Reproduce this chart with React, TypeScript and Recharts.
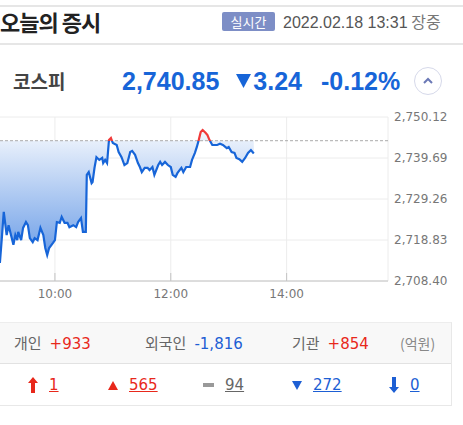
import {
  Area,
  CartesianGrid,
  ComposedChart,
  Line,
  ReferenceLine,
  XAxis,
  YAxis,
} from "recharts";

// minutes after 09:00 and KOSPI value
const minutes = [
  0, 3, 5, 7, 10, 12, 17, 19, 21, 22, 25, 27, 30, 32, 34, 37, 39, 42, 45, 48,
  50, 52, 54, 58, 60, 62, 65, 67, 70, 73, 75, 79, 82, 84, 87, 89, 92, 93, 95,
  98, 99, 101, 103, 106, 109, 110, 112, 114, 116, 118, 120, 124, 126, 129, 132,
  135, 138, 140, 143, 146, 148, 150, 153, 156, 158, 161, 163, 167, 169, 171,
  174, 177, 180, 182, 185, 187, 191, 193, 196, 200, 202, 205, 207, 209, 211,
  213, 216, 218, 220, 223, 228, 231, 234, 238, 240, 243, 246, 248, 251, 254,
  257, 260, 263, 266,
];
const prices = [
  2716.8, 2713.0, 2719.3, 2726.0, 2720.1, 2722.6, 2717.6, 2720.1, 2718.8,
  2720.9, 2718.8, 2721.9, 2723.4, 2722.6, 2719.3, 2718.3, 2719.3, 2718.8,
  2721.9, 2720.1, 2716.8, 2715.0, 2716.8, 2718.1, 2718.8, 2723.4, 2723.2,
  2724.7, 2723.2, 2723.2, 2722.1, 2722.6, 2722.1, 2723.4, 2724.4, 2720.9,
  2720.9, 2735.4, 2736.1, 2733.3, 2733.6, 2737.2, 2739.9, 2739.2, 2739.7,
  2738.4, 2739.2, 2738.4, 2744.3, 2744.8, 2743.5, 2743.0, 2741.2, 2739.9,
  2737.9, 2738.4, 2741.2, 2741.5, 2740.5, 2738.4, 2737.4, 2736.1, 2737.2,
  2737.2, 2736.6, 2737.4, 2735.4, 2737.9, 2738.7, 2737.9, 2738.7, 2737.9,
  2737.4, 2735.4, 2734.9, 2735.9, 2737.2, 2736.1, 2737.4, 2737.4, 2739.2,
  2741.0, 2742.5, 2744.3, 2746.3, 2746.8, 2746.1, 2745.5, 2744.3, 2743.0,
  2743.0, 2743.3, 2743.0, 2742.2, 2742.5, 2741.2, 2741.0, 2739.7, 2739.4,
  2738.7, 2739.7, 2741.0, 2741.7, 2740.85,
];
const PREV_CLOSE = 2744.09;

const yTicks = [2708.4, 2718.83, 2729.26, 2739.69, 2750.12];
const xTicks = [60, 180, 300];
const xTickLabels = ["10:00", "12:00", "14:00"];

const investors = [
  { name: "개인", value: "+933", color: "#e8281b", x: 14 },
  { name: "외국인", value: "-1,816", color: "#1d5fd4", x: 145 },
  { name: "기관", value: "+854", color: "#e8281b", x: 292 },
];

const counts = [
  { kind: "upper", value: "1", color: "#e8281b", x: 28 },
  { kind: "up", value: "565", color: "#e8281b", x: 108 },
  { kind: "flat", value: "94", color: "#666", x: 203 },
  { kind: "down", value: "272", color: "#1d5fd4", x: 292 },
  { kind: "lower", value: "0", color: "#1d5fd4", x: 389 },
];

const series = minutes.map((t, i) => ({ t, v: prices[i] }));
const vMax = Math.max(...prices);
const vMin = Math.min(...prices);
const splitOffset = (vMax - PREV_CLOSE) / (vMax - vMin);

const BLUE = "#1765d8";
const RED = "#f03a3a";
const NUM_FONT = "'DejaVu Sans', sans-serif";
const KR_FONT = "'Noto Sans CJK KR', sans-serif";

const fmtY = (v: number) =>
  v.toLocaleString("en-US", { minimumFractionDigits: 2, maximumFractionDigits: 2 });

function XTick(props: any) {
  const { x, y, payload } = props;
  const idx = xTicks.indexOf(payload.value);
  return (
    <g>
      <line x1={x} x2={x} y1={y - 8} y2={y} stroke="#c4c4c4" />
      <text
        x={x}
        y={y + 17}
        textAnchor="middle"
        fontSize={12}
        fontFamily={NUM_FONT}
        fill="#777"
      >
        {xTickLabels[idx]}
      </text>
    </g>
  );
}

function CountIcon({ kind, color }: { kind: string; color: string }) {
  if (kind === "upper")
    return (
      <svg width={10} height={16}>
        <polygon points="5,0 10,6 7,6 7,16 3,16 3,6 0,6" fill={color} />
      </svg>
    );
  if (kind === "lower")
    return (
      <svg width={10} height={16}>
        <polygon points="3,0 7,0 7,10 10,10 5,16 0,10 3,10" fill={color} />
      </svg>
    );
  if (kind === "up")
    return (
      <svg width={10} height={9}>
        <polygon points="5,0 10,9 0,9" fill={color} />
      </svg>
    );
  if (kind === "down")
    return (
      <svg width={10} height={9}>
        <polygon points="0,0 10,0 5,9" fill={color} />
      </svg>
    );
  return (
    <svg width={11} height={4}>
      <rect width={11} height={4} fill="#999" />
    </svg>
  );
}

export default function App() {
  return (
    <div
      style={{
        position: "absolute",
        left: 0,
        top: 0,
        width: 463,
        height: 425,
        overflow: "hidden",
        background: "#fff",
        fontFamily: KR_FONT,
      }}
    >
      {/* header */}
      <div style={{ position: "absolute", left: 0, top: 5, width: 463, height: 2, background: "#e6e6e6" }} />
      <div
        style={{
          position: "absolute",
          left: 0,
          top: 6,
          fontSize: 22,
          fontWeight: 700,
          letterSpacing: -1,
          color: "#222",
          lineHeight: "30px",
        }}
      >
        오늘의 증시
      </div>
      <div
        style={{
          position: "absolute",
          left: 222,
          top: 12,
          width: 53,
          height: 19,
          background: "#7d8ec6",
          borderRadius: 2,
          color: "#fff",
          fontSize: 13,
          lineHeight: "19px",
          textAlign: "center",
        }}
      >
        실시간
      </div>
      <div
        style={{
          position: "absolute",
          left: 283,
          top: 10,
          fontSize: 16,
          color: "#555",
          lineHeight: "22px",
          whiteSpace: "nowrap",
        }}
      >
        <span style={{ fontFamily: "'Liberation Sans', sans-serif" }}>2022.02.18 13:31</span>{" "}
        <span style={{ color: "#777" }}>장중</span>
      </div>
      <div style={{ position: "absolute", left: 0, top: 43, width: 463, height: 2, background: "#e6e6e6" }} />

      {/* price row */}
      <div
        style={{
          position: "absolute",
          left: 13,
          top: 67,
          fontSize: 19,
          fontWeight: 700,
          color: "#444",
          lineHeight: "28px",
        }}
      >
        코스피
      </div>
      <div
        style={{
          position: "absolute",
          left: 122,
          top: 66,
          fontSize: 25,
          fontWeight: 700,
          color: BLUE,
          fontFamily: "'Liberation Sans', sans-serif",
          lineHeight: "30px",
          whiteSpace: "nowrap",
        }}
      >
        2,740.85
        <svg width={15} height={14} style={{ marginLeft: 17, marginRight: 2, verticalAlign: 2 }}>
          <polygon points="0,0 15,0 7.5,14" fill={BLUE} />
        </svg>
        3.24
        <span style={{ marginLeft: 19 }}>-0.12%</span>
      </div>
      <div
        style={{
          position: "absolute",
          left: 414,
          top: 67,
          width: 26,
          height: 26,
          borderRadius: "50%",
          border: "1.5px solid #d6d9ea",
        }}
      >
        <svg width={26} height={26} style={{ position: "absolute", left: 0, top: 0 }}>
          <polyline points="9,15 13,11 17,15" fill="none" stroke="#6b79b6" strokeWidth={2} />
        </svg>
      </div>

      {/* chart */}
      <div style={{ position: "absolute", left: -3, top: 110 }}>
        <ComposedChart
          width={466}
          height={200}
          data={series}
          margin={{ top: 7, right: 0, bottom: 0, left: 0 }}
        >
          <defs>
            <linearGradient id="areaFill" x1="0" y1="0" x2="0" y2="1">
              <stop offset="0%" stopColor="#f3f7fd" />
              <stop offset="100%" stopColor="#6599e6" />
            </linearGradient>
            <linearGradient id="lineStroke" x1="0" y1="0" x2="0" y2="1">
              <stop offset={splitOffset} stopColor={RED} />
              <stop offset={splitOffset} stopColor={BLUE} />
            </linearGradient>
          </defs>
          <CartesianGrid stroke="#ececec" />
          <XAxis
            dataKey="t"
            type="number"
            domain={[0, 405]}
            ticks={xTicks}
            axisLine={{ stroke: "#c4c4c4" }}
            tickLine={false}
            tickSize={0}
            tickMargin={0}
            height={29}
            tick={<XTick />}
            interval={0}
          />
          <YAxis
            orientation="right"
            domain={[yTicks[0], yTicks[yTicks.length - 1]]}
            ticks={yTicks}
            tickFormatter={fmtY}
            axisLine={false}
            tickLine={false}
            tickSize={0}
            tickMargin={6}
            width={75}
            tick={{ fontSize: 12, fontFamily: NUM_FONT, fill: "#777" }}
            interval={0}
          />
          <ReferenceLine y={PREV_CLOSE} stroke="#aaa" strokeDasharray="3 2" />
          <Area
            type="linear"
            dataKey="v"
            baseValue={PREV_CLOSE}
            stroke="none"
            fill="url(#areaFill)"
            fillOpacity={1}
            isAnimationActive={false}
          />
          <Line
            type="linear"
            dataKey="v"
            stroke="url(#lineStroke)"
            strokeWidth={2.2}
            dot={false}
            isAnimationActive={false}
          />
        </ComposedChart>
      </div>

      {/* investors band */}
      <div
        style={{
          position: "absolute",
          left: 0,
          top: 322,
          width: 451,
          height: 40,
          background: "#f8f8f8",
          borderTop: "1px solid #ededed",
          borderBottom: "1px solid #e2e2e2",
          borderRight: "1px solid #e8e8e8",
        }}
      />
      {investors.map((d) => (
        <div
          key={d.name}
          style={{
            position: "absolute",
            left: d.x,
            top: 332,
            fontSize: 15,
            lineHeight: "22px",
            color: "#666",
            whiteSpace: "nowrap",
          }}
        >
          {d.name}
          <span style={{ marginLeft: 8, color: d.color, fontFamily: NUM_FONT }}>{d.value}</span>
        </div>
      ))}
      <div
        style={{
          position: "absolute",
          left: 400,
          top: 332,
          fontSize: 14,
          lineHeight: "22px",
          color: "#888",
        }}
      >
        (억원)
      </div>

      {/* advance / decline */}
      <div
        style={{
          position: "absolute",
          left: 0,
          top: 363,
          width: 451,
          height: 42,
          borderBottom: "1px solid #e8e8e8",
          borderRight: "1px solid #e8e8e8",
        }}
      />
      {counts.map((d) => (
        <div
          key={d.kind}
          style={{
            position: "absolute",
            left: d.x,
            top: 374,
            height: 22,
            display: "flex",
            alignItems: "center",
            gap: 11,
            whiteSpace: "nowrap",
          }}
        >
          <CountIcon kind={d.kind} color={d.color} />
          <span
            style={{
              fontFamily: NUM_FONT,
              fontSize: 15,
              color: d.color,
              textDecoration: "underline",
            }}
          >
            {d.value}
          </span>
        </div>
      ))}
    </div>
  );
}
